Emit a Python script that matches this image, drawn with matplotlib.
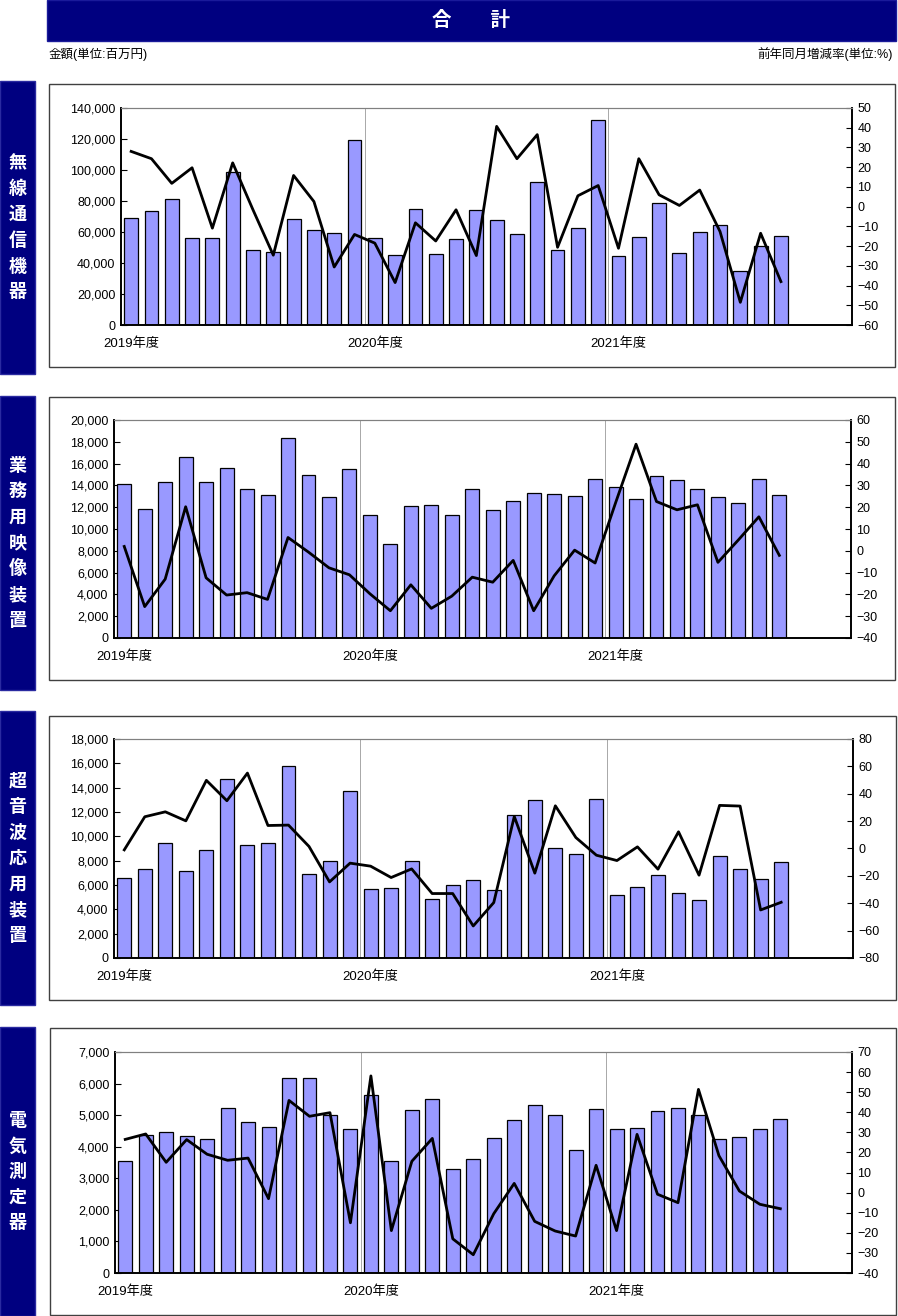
import matplotlib
matplotlib.use('Agg')
import matplotlib.pyplot as plt
from matplotlib.patches import Rectangle
from matplotlib.ticker import FuncFormatter, MultipleLocator

plt.rcParams['font.family'] = ['Liberation Sans', 'Noto Sans CJK JP']

# monthly values, FY2019 April .. FY2021 December (33 months)
years = ['2019年度', '2020年度', '2021年度']

radio_amt = [69000, 73700, 81600, 56000, 56000, 98400, 48200, 47400, 68100, 61000, 59200, 119100,
             56000, 45400, 75000, 46100, 55400, 74100, 67600, 59000, 92400, 48700, 62500, 132200,
             44200, 56600, 78800, 46300, 59900, 64800, 34700, 50800, 57300]
radio_pct = [28.0, 24.3, 11.8, 19.7, -10.9, 22.2, -1.6, -24.6, 15.8, 2.6, -30.6, -14.1,
             -18.5, -38.5, -8.2, -17.4, -1.6, -24.8, 40.7, 24.3, 36.5, -20.6, 5.5, 10.7,
             -21.1, 24.3, 6.0, 0.6, 8.4, -12.6, -48.5, -13.5, -38.0]

video_amt = [14100, 11800, 14300, 16600, 14300, 15600, 13650, 13130, 18320, 14930, 12920, 15480,
             11240, 8580, 12090, 12180, 11270, 13710, 11730, 12580, 13310, 13190, 13000, 14630,
             13830, 12760, 14840, 14500, 13650, 12920, 12340, 14570, 13130]
video_pct = [2.0, -25.6, -13.0, 20.2, -12.4, -20.3, -19.2, -22.3, 6.1, -0.6, -7.8, -11.0,
             -19.7, -27.5, -15.6, -26.4, -20.8, -12.1, -14.4, -4.4, -27.5, -11.5, 0.3, -5.6,
             22.0, 48.9, 22.6, 18.8, 21.1, -5.3, 5.0, 15.6, -2.1]

sonic_amt = [6560, 7330, 9440, 7190, 8860, 14680, 9280, 9490, 15780, 6890, 7960, 13720,
             5710, 5740, 8010, 4860, 5980, 6370, 5600, 11720, 12950, 9080, 8560, 13030,
             5210, 5850, 6830, 5380, 4780, 8420, 7350, 6500, 7850]
sonic_pct = [-1.0, 23.2, 26.8, 20.2, 49.8, 34.9, 55.1, 16.8, 17.1, 1.5, -24.4, -10.7,
             -12.9, -21.2, -14.9, -32.9, -32.9, -56.6, -39.5, 23.4, -18.0, 31.2, 8.0, -4.9,
             -8.8, 1.2, -15.1, 12.2, -19.5, 31.5, 31.0, -44.9, -39.3]

meter_amt = [3560, 4370, 4480, 4330, 4240, 5220, 4770, 4630, 6190, 6190, 4990, 4560,
             5650, 3560, 5160, 5500, 3280, 3600, 4290, 4840, 5330, 5010, 3910, 5180,
             4570, 4580, 5130, 5220, 5000, 4260, 4320, 4560, 4890]
meter_pct = [26.5, 29.2, 15.1, 26.4, 19.1, 16.1, 17.2, -3.0, 45.9, 38.0, 39.8, -15.0,
             58.1, -18.9, 15.6, 27.0, -23.0, -30.9, -10.5, 4.6, -14.3, -19.1, -21.6, 13.6,
             -18.9, 29.0, -0.8, -5.0, 51.4, 18.4, 0.8, -5.8, -8.0]

W, H = 898, 1316
fig = plt.figure(figsize=(W / 100, H / 100), dpi=100)
NAVY = '#000080'


def fbox(x0, y0, x1, y1):
    return [x0 / W, 1 - y1 / H, (x1 - x0) / W, (y1 - y0) / H]


def rect(x0, y0, x1, y1, **kw):
    b = fbox(x0, y0, x1, y1)
    fig.patches.append(Rectangle((b[0], b[1]), b[2], b[3], transform=fig.transFigure,
                                 zorder=-5, **kw))


# header
rect(47, 0, 896, 41, facecolor=NAVY, edgecolor='#1a1a9a', lw=1)
fig.text(471.5 / W, 1 - 21 / H, '合　　計', color='white', fontsize=14, fontweight='bold',
         ha='center', va='center')
fig.text(49 / W, 1 - 54 / H, '金額(単位:百万円)', fontsize=9, ha='left', va='center')
fig.text(893 / W, 1 - 54 / H, '前年同月増減率(単位:%)', fontsize=9, ha='right', va='center')

panels = [
    ('無線通信機器', radio_amt, radio_pct, (49, 84, 895, 367), (121, 108, 852, 325),
     (0, 140000, 20000), (-60, 50, 10), (0, 81, 35, 374)),
    ('業務用映像装置', video_amt, video_pct, (49, 397, 895, 680), (114, 420, 851, 638),
     (0, 20000, 2000), (-40, 60, 10), (0, 396, 35, 690)),
    ('超音波応用装置', sonic_amt, sonic_pct, (49, 716, 896, 1000), (114, 739, 853, 958),
     (0, 18000, 2000), (-80, 80, 20), (0, 711, 35, 1005)),
    ('電気測定器', meter_amt, meter_pct, (50, 1028, 896, 1315), (115, 1052, 852, 1273),
     (0, 7000, 1000), (-40, 70, 10), (0, 1027, 35, 1316)),
]

for name, amt, pct, frame, plot, lrange, rrange, side in panels:
    rect(*side, facecolor=NAVY, edgecolor='#2a2aa0', lw=1)
    sx = (side[0] + side[2]) / 2 / W
    sy = 1 - (side[1] + side[3]) / 2 / H
    fig.text(sx, sy, '\n'.join(name), color='white', fontsize=13, fontweight='bold',
             ha='center', va='center', linespacing=1.45, family='Noto Sans CJK JP')
    rect(*frame, facecolor='white', edgecolor='#404040', lw=1)

    ax = fig.add_axes(fbox(*plot))
    x = list(range(len(amt)))
    ax.bar(x, amt, width=0.68, color='#9999FF', edgecolor='black', linewidth=0.9, zorder=2)
    ax.set_xlim(-0.5, 35.5)
    ax.set_ylim(lrange[0], lrange[1])
    ax.yaxis.set_major_locator(MultipleLocator(lrange[2]))
    ax.yaxis.set_major_formatter(FuncFormatter(lambda v, p: f'{int(v):,}'))
    ax.set_xticks([0, 12, 24])
    ax.set_xticklabels(years)
    ax.tick_params(axis='x', length=0, pad=9, labelsize=9.5)
    ax.tick_params(axis='y', direction='in', length=4, labelsize=9, pad=4)
    for xv in (11.5, 23.5):
        ax.axvline(xv, color='#a8a8a8', lw=0.7, zorder=1)

    ax2 = ax.twinx()
    ax2.plot(x, pct, color='black', lw=2.0, zorder=3)
    ax2.set_ylim(rrange[0], rrange[1])
    ax2.yaxis.set_major_locator(MultipleLocator(rrange[2]))
    ax2.tick_params(axis='y', direction='in', length=4, labelsize=9, pad=4)

    for a in (ax, ax2):
        a.spines['top'].set_color('#808080')
        a.spines['left'].set_linewidth(1.2)
        a.spines['right'].set_linewidth(1.2)
        a.spines['bottom'].set_linewidth(1.2)

fig.savefig('out.png', dpi=100)
